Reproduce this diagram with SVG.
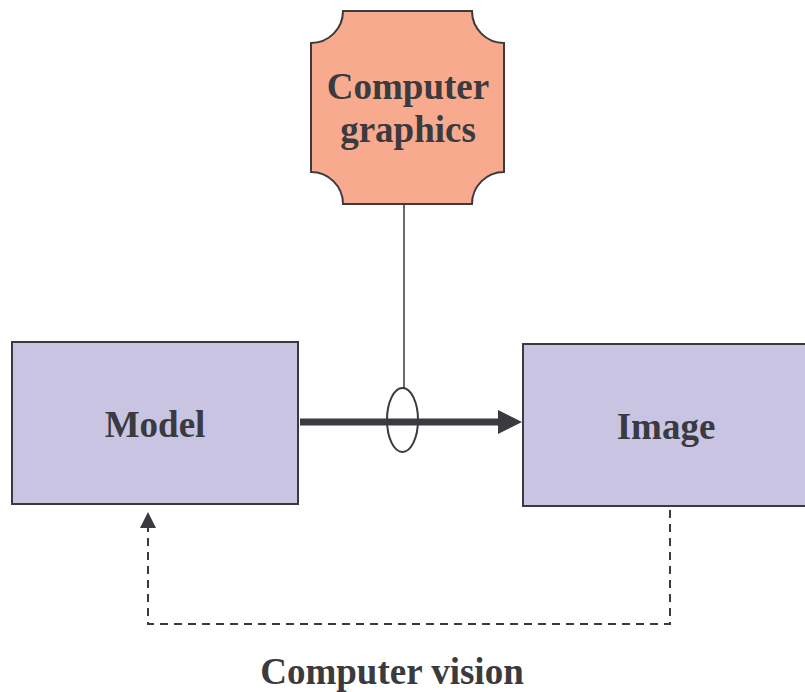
<svg xmlns="http://www.w3.org/2000/svg" width="805" height="692" viewBox="0 0 805 692">
<style>
.t{font-family:"Liberation Serif","Times New Roman",serif;font-weight:bold;font-size:37px;fill:#3a3a3f;text-anchor:middle}
.box{fill:#c8c4e2;stroke:#3a3a3f;stroke-width:2}
.dash{fill:none;stroke:#3a3a3f;stroke-width:2;stroke-dasharray:8,6}
</style>
<defs>
<marker id="ah" markerWidth="10" markerHeight="10" refX="10" refY="5" orient="auto" markerUnits="userSpaceOnUse" viewBox="0 0 10 10"><path d="M0,0 L10,5 L0,10 Z" fill="#3a3a3f"/></marker>
</defs>
<rect width="805" height="692" fill="#fff"/>
<g id="graphics">
<path d="M343,11 L472,11 A32,32 0 0 0 504,43 L504,172 A32,32 0 0 0 472,204 L343,204 A32,32 0 0 0 311,172 L311,43 A32,32 0 0 0 343,11 Z" fill="#f8aa8e" stroke="#3a3a3f" stroke-width="2"/>
<text class="t" x="408" y="99">Computer</text>
<text class="t" x="408" y="142">graphics</text>
</g>
<g id="model">
<rect class="box" x="12" y="342" width="286" height="162"/>
<text class="t" x="155" y="437">Model</text>
</g>
<g id="image">
<rect class="box" x="523" y="344" width="290" height="162"/>
<text class="t" x="666" y="439">Image</text>
</g>
<g id="connectors">
<line x1="300" y1="422" x2="500" y2="422" stroke="#3a3a3f" stroke-width="7"/>
<path d="M498,410 L522,422 L498,434 Z" fill="#3a3a3f"/>
<line x1="404" y1="204" x2="404" y2="389" stroke="#3a3a3f" stroke-width="1.5"/>
<ellipse cx="402.5" cy="420" rx="15.5" ry="32" fill="none" stroke="#3a3a3f" stroke-width="2"/>
<path class="dash" d="M670,510 L670,624 L148,624 L148,528"/>
<path d="M140,528 L148,512 L156,528 Z" fill="#3a3a3f"/>
</g>
<text class="t" x="392" y="684">Computer vision</text>
</svg>
